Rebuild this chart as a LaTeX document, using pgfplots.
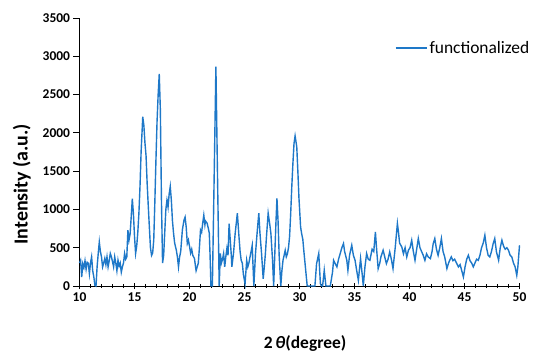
\documentclass[border=0pt]{standalone}
\usepackage{fontspec}
\setmainfont{Carlito}
\usepackage{pgfplots}
\pgfplotsset{compat=1.18}
\definecolor{xrdblue}{RGB}{30,120,200}
\begin{document}
\begin{tikzpicture}[x=1bp,y=1bp]
\useasboundingbox (0,0) rectangle (534,354);
\begin{axis}[
  at={(79.5bp,68bp)}, anchor=south west,
  scale only axis, width=440bp, height=268bp,
  xmin=10, xmax=50, ymin=0, ymax=3500,
  axis x line=bottom, axis y line=left,
  axis line style={-, black, line width=0.9bp},
  xtick={10,15,...,50}, minor x tick num=4,
  ytick={0,500,...,3500},
  xtick align=center, ytick align=outside,
  major tick length=6bp, minor tick length=4bp,
  every tick/.style={black, line width=0.9bp},
  /pgf/number format/assume math mode=true,
  /pgf/number format/1000 sep={},
  ticklabel style={font=\bfseries\fontsize{13.5}{14}\selectfont},
  xlabel={2\,\textit{θ}(degree)},
  ylabel={Intensity (a.u.)},
  xlabel style={at={(axis description cs:0.5125,-0.2127)}, anchor=center, font=\bfseries\fontsize{17.5}{18}\selectfont},
  ylabel style={at={(axis description cs:-0.131,0.38)}, anchor=center, font=\bfseries\fontsize{20}{21}\selectfont},
  clip=false,
  legend style={at={(axis description cs:0.717,0.888)}, anchor=west, draw=none, fill=none, inner sep=0pt, font=\fontsize{17.5}{18}\selectfont},
  legend image code/.code={\draw[#1] (0bp,0bp) -- (27bp,0bp); \path (0bp,0bp) -- (31bp,0bp);},
  legend cell align=left,
]
\addplot[color=xrdblue, line width=1.4bp, mark=none] table {
x y
10.0 300
10.1 336
10.2 118
10.3 290
10.4 240
10.5 330
10.6 220
10.7 310
10.8 297
10.9 160
11.0 300
11.1 380
11.2 200
11.3 120
11.4 10
11.5 0
11.6 250
11.7 420
11.8 575
11.9 450
12.0 380
12.1 250
12.2 300
12.3 360
12.4 280
12.5 380
12.6 250
12.7 330
12.8 425
12.9 380
13.0 320
13.1 250
13.2 380
13.3 300
13.4 200
13.5 336
13.6 260
13.7 300
13.8 180
13.9 250
14.0 300
14.1 425
14.2 350
14.3 380
14.4 730
14.5 600
14.6 680
14.7 900
14.8 1140
14.9 950
15.0 650
15.1 425
15.2 520
15.3 700
15.4 950
15.5 1300
15.6 1750
15.75 2210
15.85 2100
15.95 1870
16.05 1700
16.15 1340
16.25 1050
16.35 770
16.45 500
16.55 400
16.65 430
16.75 600
16.85 1100
16.95 1650
17.05 2150
17.15 2500
17.25 2770
17.35 2300
17.45 1120
17.55 300
17.65 400
17.75 700
17.85 1000
17.95 1120
18.05 1030
18.15 1200
18.25 1300
18.35 1120
18.45 850
18.55 690
18.65 560
18.8 470
18.9 380
19.0 250
19.1 380
19.2 450
19.35 730
19.5 860
19.6 900
19.7 770
19.8 555
19.9 600
20.0 520
20.1 430
20.2 480
20.3 400
20.45 360
20.55 250
20.6 200
20.7 250
20.8 300
20.9 500
21.0 730
21.1 700
21.2 820
21.3 925
21.4 800
21.45 850
21.6 820
21.7 760
21.8 690
21.87 400
21.95 0
22.08 0
22.25 1500
22.4 2866
22.55 1400
22.7 0
22.8 425
22.9 300
23.0 350
23.1 425
23.2 250
23.3 380
23.4 490
23.5 400
23.6 815
23.7 610
23.8 400
23.85 250
24.0 425
24.15 685
24.35 950
24.5 640
24.6 450
24.7 335
24.8 300
24.9 150
25.05 30
25.2 335
25.3 250
25.4 300
25.5 380
25.6 450
25.7 530
25.85 0
26.0 425
26.15 700
26.3 950
26.4 700
26.55 425
26.7 95
26.8 250
26.9 425
27.0 650
27.15 950
27.3 800
27.4 685
27.55 335
27.65 0
27.75 400
27.85 800
27.95 1145
28.05 850
28.15 400
28.3 0
28.4 200
28.5 335
28.6 400
28.7 465
28.8 380
28.9 420
29.0 500
29.1 650
29.2 950
29.3 1300
29.4 1600
29.5 1860
29.6 1960
29.75 1820
29.85 1500
29.95 1150
30.1 770
30.2 680
30.3 610
30.4 450
30.5 300
30.6 150
30.7 0
31.4 0
31.55 290
31.75 425
31.9 30
32.0 0
32.1 0
32.25 205
32.4 0
32.8 0
33.0 180
33.1 336
33.25 290
33.4 250
33.55 350
33.7 424
33.85 500
34.0 555
34.1 450
34.3 336
34.4 205
34.55 400
34.75 532
34.9 400
35.05 336
35.2 200
35.35 75
35.55 358
35.7 150
35.8 0
35.95 250
36.1 424
36.25 350
36.4 336
36.6 480
36.75 450
36.9 707
37.0 500
37.15 228
37.3 300
37.4 380
37.6 467
37.75 380
37.9 293
38.05 350
38.2 445
38.35 350
38.5 228
38.7 500
38.9 817
39.0 700
39.1 560
39.3 510
39.45 420
39.6 500
39.75 380
39.9 467
40.05 500
40.2 598
40.35 450
40.5 336
40.65 480
40.8 620
40.95 500
41.1 450
41.25 400
41.4 336
41.55 420
41.7 380
41.9 358
42.05 450
42.15 550
42.3 620
42.45 480
42.6 400
42.75 500
42.9 620
43.05 450
43.2 380
43.4 228
43.55 300
43.7 350
43.8 380
43.95 330
44.1 350
44.3 293
44.45 250
44.6 280
44.75 200
44.9 118
45.05 250
45.2 350
45.35 402
45.5 330
45.65 300
45.8 250
45.95 300
46.1 350
46.25 336
46.4 400
46.55 500
46.7 560
46.85 663
47.0 500
47.15 400
47.3 380
47.45 450
47.6 550
47.75 620
47.9 450
48.1 336
48.25 500
48.4 598
48.55 520
48.7 480
48.85 500
49.0 467
49.15 400
49.3 380
49.45 300
49.6 250
49.75 140
49.85 250
50.0 532
};
\addlegendentry{functionalized}
\end{axis}
\end{tikzpicture}
\end{document}
